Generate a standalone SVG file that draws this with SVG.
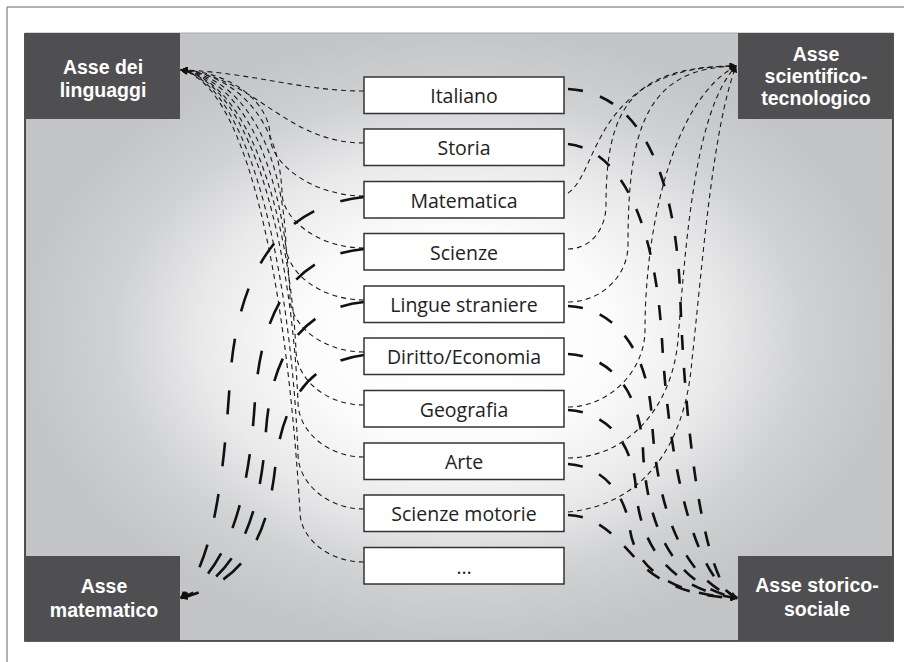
<svg xmlns="http://www.w3.org/2000/svg" width="904" height="662" viewBox="0 0 904 662">
<defs>
<radialGradient id="bg" cx="0.5" cy="0.5" r="0.5">
<stop offset="0" stop-color="#ffffff"/>
<stop offset="0.35" stop-color="#fcfcfc"/>
<stop offset="0.6" stop-color="#e9e9ea"/>
<stop offset="0.8" stop-color="#d0d1d3"/>
<stop offset="1" stop-color="#c4c5c7"/>
</radialGradient>
<marker id="ah" viewBox="0 0 10 10" refX="9" refY="5" markerWidth="8" markerHeight="7" markerUnits="userSpaceOnUse" orient="auto">
<path d="M0,0 L10,5 L0,10 z" fill="#111"/>
</marker>
<style>
.axis rect{fill:#4f4f51}
.axis text{fill:#ffffff;font-family:"Liberation Sans","Open Sans",sans-serif;font-weight:bold;font-size:19.5px;text-anchor:middle}
.subj rect{fill:#ffffff;stroke:#333333;stroke-width:1.5}
.subj text{fill:#222222;font-family:"Open Sans","Liberation Sans",sans-serif;font-size:19.5px;text-anchor:middle}
.thin{fill:none;stroke:#1a1a1a;stroke-width:1.1;stroke-dasharray:5 4;marker-end:url(#ah)}
.thickL{fill:none;stroke:#111;stroke-width:2.6;stroke-dasharray:24 28;marker-end:url(#ah)}
.thickR{fill:none;stroke:#111;stroke-width:2.6;stroke-dasharray:15 18;marker-end:url(#ah)}
</style>
</defs>
<rect width="904" height="662" fill="#ffffff"/>
<path d="M7,662 V7 H904" fill="none" stroke="#666" stroke-width="1"/>
<rect x="25" y="33" width="868" height="608" fill="url(#bg)"/>
<path d="M25,33 V641 H893 V33" fill="none" stroke="#2a2a2a" stroke-width="1.6"/>
<path d="M25,33 H893" fill="none" stroke="#aaa" stroke-width="1"/>

<g id="connectors">
<g id="to-linguaggi">
<path class="thin" d="M364,91 C300,91 250,72 181,70"/>
<path class="thin" d="M364,143 C285,143 255,76 181,70"/>
<path class="thin" d="M364,196 C312,196 270,163 270,136 C270,105 235,72 181,70"/>
<path class="thin" d="M364,248 C317,248 282,218 282,193 C280,130 245,76 181,70"/>
<path class="thin" d="M364,300 C320,300 286,272 286,245 C283,160 250,78 181,70"/>
<path class="thin" d="M364,352 C322,352 290,325 290,297 C286,190 252,80 181,70"/>
<path class="thin" d="M364,405 C325,405 296,378 296,350 C290,230 254,82 181,70"/>
<path class="thin" d="M364,457 C326,457 298,430 298,402 C292,260 256,84 181,70"/>
<path class="thin" d="M364,509 C326,509 298,482 298,454 C292,300 257,86 181,70"/>
<path class="thin" d="M364,562 C327,562 300,537 300,512 C290,340 258,88 181,70"/>
</g>
<g id="to-scientifico">
<path class="thin" d="M568,193 C600,172 592,66 736,66"/>
<path class="thin" d="M568,249 C590,249 606,230 606,205 C606,110 630,66 736,66"/>
<path class="thin" d="M568,302 C601,302 628,276 628,245 C628,130 645,68 736,66"/>
<path class="thin" d="M568,407 C610,407 645,370 645,330 C645,230 672,100 736,66"/>
<path class="thin" d="M568,458 C625,458 672,410 678,340 C686,240 695,110 736,66"/>
<path class="thin" d="M568,512 C640,505 685,450 692,360 C702,270 712,130 736,66"/>
</g>
<g id="to-storico">
<path class="thickR" d="M568,89 C635,92 674,163 680,290 C685,444 706,590 737,598"/>
<path class="thickR" d="M568,144 C620,150 655,220 662,340 C668,450 690,575 737,598"/>
<path class="thickR" d="M568,306 C615,308 648,350 652,420 C656,500 680,580 737,598"/>
<path class="thickR" d="M568,354 C610,356 640,390 643,450 C646,520 670,585 737,598"/>
<path class="thickR" d="M568,410 C605,412 633,440 636,490 C640,545 670,590 737,598"/>
<path class="thickR" d="M568,464 C600,466 625,490 630,530 C636,570 675,595 737,598"/>
<path class="thickR" d="M568,515 C600,516 618,540 640,563 C665,588 700,597 737,598"/>
</g>
<g id="to-matematico">
<path class="thickL" d="M364,197 C285,205 238,265 230,380 C224,470 215,560 181,598"/>
<path class="thickL" d="M364,249 C300,255 262,300 255,400 C250,480 235,565 181,598"/>
<path class="thickL" d="M364,302 C305,308 272,350 266,430 C262,500 245,575 181,598"/>
<path class="thickL" d="M364,355 C310,362 284,400 276,460 C270,520 255,580 181,598"/>
</g>
</g>

<g id="asse-linguaggi" class="axis">
<rect x="25" y="33" width="155" height="86"/>
<text x="103" y="74">Asse dei</text>
<text x="103" y="97">linguaggi</text>
</g>
<g id="asse-scientifico" class="axis">
<rect x="738" y="33" width="155" height="86"/>
<text x="816" y="61">Asse</text>
<text x="816" y="83">scientifico-</text>
<text x="816" y="105">tecnologico</text>
</g>
<g id="asse-matematico" class="axis">
<rect x="25" y="556" width="155" height="85"/>
<text x="104" y="593">Asse</text>
<text x="104" y="617">matematico</text>
</g>
<g id="asse-storico" class="axis">
<rect x="738" y="556" width="155" height="85"/>
<text x="817" y="592">Asse storico-</text>
<text x="817" y="616">sociale</text>
</g>

<g id="italiano" class="subj"><rect x="364" y="77" width="200" height="36.5"/><text x="464" y="103">Italiano</text></g>
<g id="storia" class="subj"><rect x="364" y="129" width="200" height="36.5"/><text x="464" y="155">Storia</text></g>
<g id="matematica" class="subj"><rect x="364" y="181.5" width="200" height="36.5"/><text x="464" y="207.5">Matematica</text></g>
<g id="scienze" class="subj"><rect x="364" y="233.5" width="200" height="36.5"/><text x="464" y="259.5">Scienze</text></g>
<g id="lingue" class="subj"><rect x="364" y="286" width="200" height="36.5"/><text x="464" y="312">Lingue straniere</text></g>
<g id="diritto" class="subj"><rect x="364" y="338" width="200" height="36.5"/><text x="464" y="364">Diritto/Economia</text></g>
<g id="geografia" class="subj"><rect x="364" y="390.5" width="200" height="36.5"/><text x="464" y="416.5">Geografia</text></g>
<g id="arte" class="subj"><rect x="364" y="443" width="200" height="36.5"/><text x="464" y="469">Arte</text></g>
<g id="motorie" class="subj"><rect x="364" y="495" width="200" height="36.5"/><text x="464" y="521">Scienze motorie</text></g>
<g id="altro" class="subj"><rect x="364" y="547.5" width="200" height="36.5"/><text x="464" y="573.5">…</text></g>
</svg>
